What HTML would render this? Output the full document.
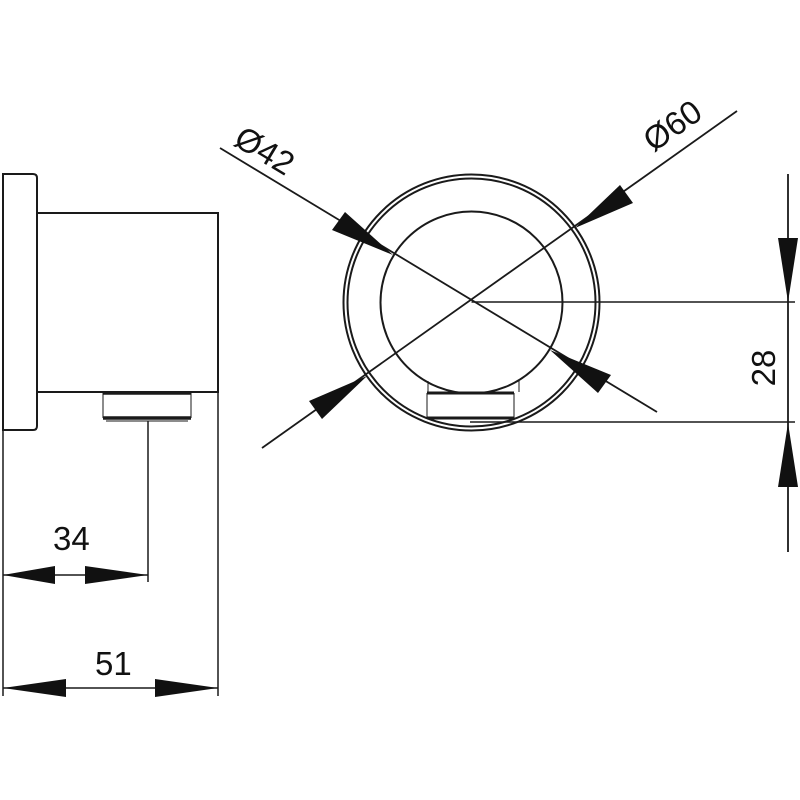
<!DOCTYPE html>
<html><head><style>body{margin:0;background:#fff}svg{display:block}</style></head><body>
<svg width="800" height="800" viewBox="0 0 800 800" xmlns="http://www.w3.org/2000/svg" font-family="Liberation Sans, DejaVu Sans, sans-serif">
<g fill="none" stroke="#1a1a1a" stroke-width="2">
<!-- side view -->
<path d="M3 430 V174 H33 Q37 174 37 178 V426 Q37 430 33 430 Z"/>
<rect x="37" y="213" width="181" height="179"/>
<path d="M103 393 V418 M191 393 V418" stroke-width="1"/>
<line x1="103" y1="393" x2="191" y2="393" stroke-width="3.5"/>
<line x1="103" y1="418" x2="191" y2="418" stroke-width="3.5"/>
<path d="M106 421 L188 421" stroke-width="1"/>
<line x1="3" y1="430" x2="3" y2="696" stroke-width="1.5"/>
<line x1="218" y1="392" x2="218" y2="696" stroke-width="1.5"/>
<line x1="148" y1="421" x2="148" y2="582" stroke-width="1.5"/>
<line x1="3" y1="575" x2="148" y2="575" stroke-width="1.5"/>
<line x1="3" y1="688" x2="218" y2="688" stroke-width="1.5"/>
<!-- front view -->
<circle cx="471.5" cy="302.5" r="128"/>
<circle cx="471.5" cy="302.5" r="124"/>
<circle cx="471.5" cy="302.5" r="91"/>
<path d="M428 381 V392 M519 381 V392" stroke-width="1"/>
<line x1="427" y1="393" x2="514" y2="393" stroke-width="3"/>
<line x1="427" y1="418" x2="514" y2="418" stroke-width="3"/>
<path d="M427 393 V418 M514 393 V418" stroke-width="1"/>
<line x1="220" y1="148" x2="657" y2="412" stroke-width="1.8"/>
<line x1="737" y1="111" x2="262" y2="448" stroke-width="1.8"/>
<line x1="471.5" y1="302" x2="795" y2="302" stroke-width="1.5"/>
<line x1="470" y1="422" x2="795" y2="422" stroke-width="1.5"/>
<line x1="788" y1="174" x2="788" y2="552" stroke-width="1.8"/>
</g>
<g fill="#111">
<!-- left arrows -->
<polygon points="3,575 55,566 55,584"/>
<polygon points="148,575 85,566 85,584"/>
<polygon points="3,688 66,679 66,697"/>
<polygon points="218,688 155,679 155,697"/>
<!-- 28 arrows -->
<polygon points="788,302 778,238 798,238"/>
<polygon points="788,423 778,487 798,487"/>
<!-- Ø42 arrows -->
<polygon points="393,255 332,230 345,212"/>
<polygon points="550,350 611,375 598,393"/>
<!-- Ø60 arrows -->
<polygon points="575,228 620,185 633,203"/>
<polygon points="367,376 322,419 309,401"/>
</g>
<g fill="#111" font-size="33">
<text x="53" y="550">34</text>
<text x="95" y="675">51</text>
<text transform="translate(763,368) rotate(-90)" text-anchor="middle" dy="12">28</text>
<text transform="translate(265,150) rotate(31)" text-anchor="middle" dy="12">Ø42</text>
<text transform="translate(672,125) rotate(-35)" text-anchor="middle" dy="12">Ø60</text>
</g>
</svg>
</body></html>
